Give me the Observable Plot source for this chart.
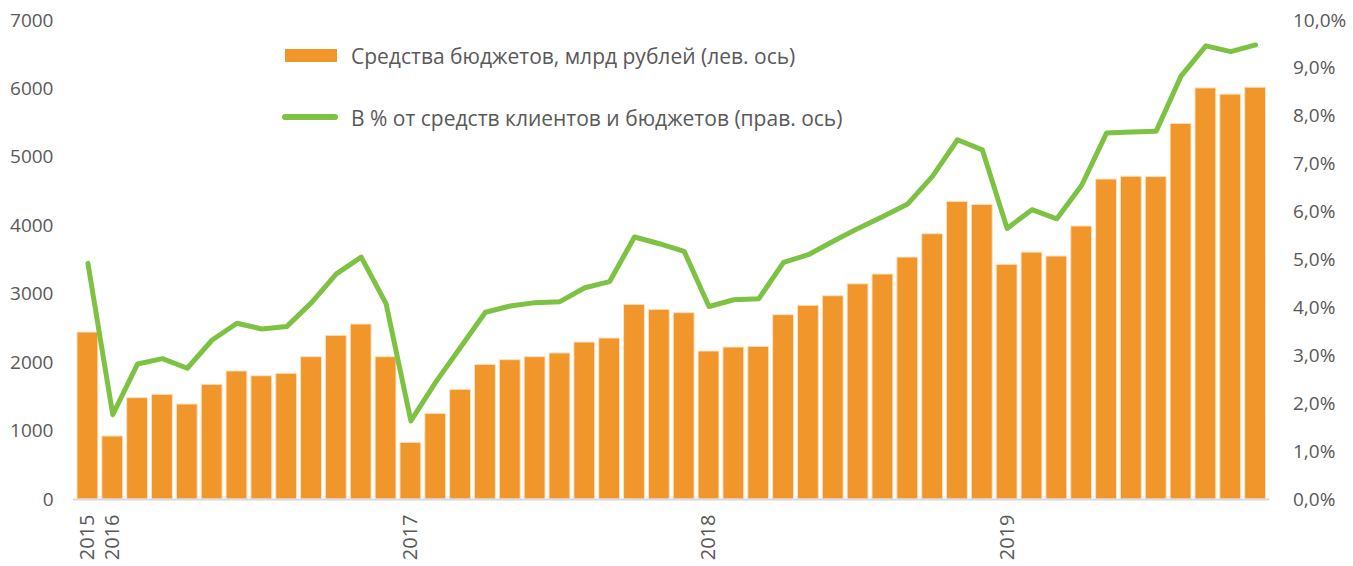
<!DOCTYPE html>
<html>
<head>
<meta charset="utf-8">
<script src="https://cdn.jsdelivr.net/npm/d3@7"></script>
<script src="https://cdn.jsdelivr.net/npm/@observablehq/plot@0.6"></script>
<style>
  body { margin: 0; background: #fff; }
  #chart { position: relative; width: 1353px; height: 566px; font-family: "Open Sans", sans-serif; color: #595959; }
  #chart svg { position: absolute; left: 0; top: 0; background: transparent; }
  .lg-text { position: absolute; left: 351px; font-size: 21px; line-height: 21px; color: #595959; white-space: nowrap; }
  .lg-swatch-bar { position: absolute; left: 285px; top: 49px; width: 52px; height: 13px; background: #F0962A; }
  .lg-swatch-line { position: absolute; left: 282px; top: 114px; width: 56px; height: 6px; background: #7DC242; border-radius: 3px; }
</style>
</head>
<body>
<div id="chart"></div>
<script>
const months = [
  "2015-12",
  "2016-01","2016-02","2016-03","2016-04","2016-05","2016-06","2016-07","2016-08","2016-09","2016-10","2016-11","2016-12",
  "2017-01","2017-02","2017-03","2017-04","2017-05","2017-06","2017-07","2017-08","2017-09","2017-10","2017-11","2017-12",
  "2018-01","2018-02","2018-03","2018-04","2018-05","2018-06","2018-07","2018-08","2018-09","2018-10","2018-11","2018-12",
  "2019-01","2019-02","2019-03","2019-04","2019-05","2019-06","2019-07","2019-08","2019-09","2019-10","2019-11"
];
const budgetFunds = [
  2440,
  921, 1481, 1530, 1388, 1676, 1871, 1802, 1837, 2080, 2392, 2557, 2080,
  828, 1252, 1603, 1968, 2036, 2080, 2134, 2294, 2353, 2845, 2772, 2723,
  2163, 2221, 2231, 2694, 2831, 2971, 3145, 3288, 3536, 3877, 4350, 4305,
  3430, 3608, 3551, 3990, 4676, 4717, 4712, 5489, 6008, 5917, 6018
];
const sharePct = [
  4.93,
  1.77, 2.83, 2.94, 2.74, 3.33, 3.68, 3.56, 3.61, 4.11, 4.71, 5.06, 4.09,
  1.64, 2.45, 3.18, 3.91, 4.04, 4.11, 4.13, 4.42, 4.55, 5.48, 5.34, 5.18,
  4.03, 4.17, 4.19, 4.95, 5.11, 5.39, 5.66, 5.91, 6.17, 6.75, 7.51, 7.30,
  5.66, 6.05, 5.86, 6.56, 7.65, 7.67, 7.69, 8.84, 9.47, 9.35, 9.49
];
const yearTickMonths = ["2015-12", "2016-01", "2017-01", "2018-01", "2019-01"];
const yearTickLabels = ["2015", "2016", "2017", "2018", "2019"];
const leftTicks = [0, 1000, 2000, 3000, 4000, 5000, 6000, 7000];
const rightTicks = [0, 1, 2, 3, 4, 5, 6, 7, 8, 9, 10];
const seriesNames = ["Средства бюджетов, млрд рублей (лев. ось)", "В % от средств клиентов и бюджетов (прав. ось)"];

const barData = months.map((m, i) => ({month: m, value: budgetFunds[i]}));
const lineData = months.map((m, i) => ({month: m, pct: sharePct[i]}));

const W = 1353, H = 566;
const margins = {marginLeft: 73, marginRight: 83.5, marginTop: 20, marginBottom: 67};
const xScale = {type: "band", domain: months, padding: 0.16, axis: null};
const font = {fontFamily: "'Open Sans', sans-serif", color: "#595959", background: "transparent", overflow: "visible"};

const barsPlot = Plot.plot({
  width: W, height: H, ...margins,
  style: font,
  x: xScale,
  y: {domain: [0, 7000], axis: null},
  marks: [
    Plot.barY(barData, {x: "month", y: "value", fill: "#F0962A", stroke: "#FBE3C6", strokeWidth: 1}),
    Plot.ruleY([0], {stroke: "#D9D9D9", strokeWidth: 2}),
    Plot.axisY({ticks: leftTicks, tickSize: 0, tickPadding: 20, tickFormat: d => String(d), fontSize: 19, label: null}),
    Plot.axisX({ticks: yearTickMonths, tickFormat: d => yearTickLabels[yearTickMonths.indexOf(d)], tickRotate: -90, tickSize: 0, tickPadding: 15, fontSize: 20, label: null})
  ]
});

const linePlot = Plot.plot({
  width: W, height: H, ...margins,
  style: font,
  x: xScale,
  y: {domain: [0, 10], axis: null},
  marks: [
    Plot.lineY(lineData, {x: "month", y: "pct", stroke: "#7DC242", strokeWidth: 5, strokeLinejoin: "round", strokeLinecap: "round"}),
    Plot.axisY({anchor: "right", ticks: rightTicks, tickSize: 0, tickPadding: 23, textAnchor: "start", tickFormat: d => d.toFixed(1).replace(".", ",") + "%", fontSize: 19, label: null})
  ]
});

const chart = document.getElementById("chart");
chart.appendChild(barsPlot);
chart.appendChild(linePlot);

function addEl(cls, top, text) {
  const el = document.createElement("div");
  el.className = cls;
  if (top != null) el.style.top = top + "px";
  if (text != null) el.textContent = text;
  chart.appendChild(el);
}
addEl("lg-swatch-bar");
addEl("lg-text", 45.5, seriesNames[0]);
addEl("lg-swatch-line");
addEl("lg-text", 107.8, seriesNames[1]);
</script>
</body>
</html>
